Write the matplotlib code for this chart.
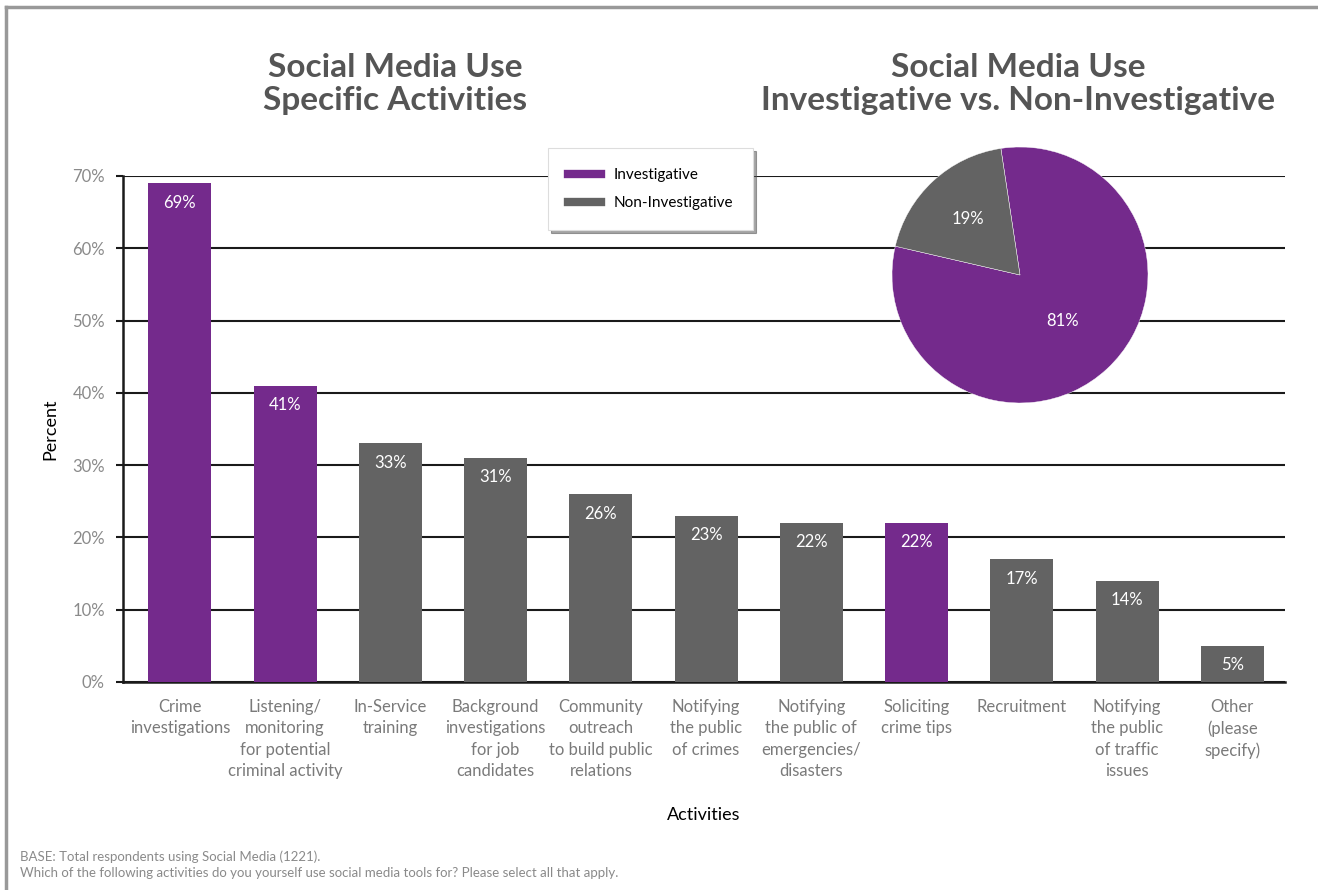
import matplotlib
matplotlib.use("Agg")
import matplotlib.pyplot as plt
from matplotlib.lines import Line2D
import numpy as np

# bar chart data
activities = ["Crime\ninvestigations", "Listening/\nmonitoring\nfor potential\ncriminal activity",
              "In-Service\ntraining", "Background\ninvestigations\nfor job\ncandidates",
              "Community\noutreach\nto build public\nrelations", "Notifying\nthe public\nof crimes",
              "Notifying\nthe public of\nemergencies/\ndisasters", "Soliciting\ncrime tips",
              "Recruitment", "Notifying\nthe public\nof traffic\nissues", "Other\n(please\nspecify)"]
percent = [69, 41, 33, 31, 26, 23, 22, 22, 17, 14, 5]
investigative = [True, True, False, False, False, False, False, True, False, False, False]

# pie chart data
pie_labels = ["Investigative", "Non-Investigative"]
pie_values = [81, 19]

purple = "#742a8c"
grey = "#636363"
plt.rcParams['font.family'] = ['Lato', 'DejaVu Sans']

fig = plt.figure(figsize=(13.18, 8.9), dpi=100)

# outer frame (top and left edge)
fig.add_artist(Line2D([6/1318, 6/1318], [0, 1 - 7/890], color="#999999", lw=2.5))
fig.add_artist(Line2D([6/1318, 1], [1 - 7/890, 1 - 7/890], color="#999999", lw=2.5))

ax = fig.add_axes([123/1318, 1 - 682/890, (1285 - 123)/1318, (682 - 176)/890])
x = np.arange(len(percent))
colors = [purple if inv else grey for inv in investigative]
ax.bar(x, percent, width=0.6, color=colors, zorder=3)
for xi, p in zip(x, percent):
    ax.text(xi, p - 2.7, f"{p}%", ha="center", va="center", color="white", fontsize=12, zorder=4)

ax.set_xlim(-0.54, 10.5)
ax.set_ylim(0, 70)
ax.set_yticks(range(0, 71, 10))
ax.set_yticklabels([f"{v}%" for v in range(0, 71, 10)], color="#8a8a8a", fontsize=12)
ax.yaxis.grid(True, color="#1a1a1a", lw=1.5, zorder=0)
ax.tick_params(axis="y", length=5, width=1.5, color="#1a1a1a", pad=8)
ax.set_xticks(x)
ax.set_xticklabels(activities, color="#7a7a7a", fontsize=12, linespacing=1.42)
ax.tick_params(axis="x", length=0, pad=12)
for s in ["top", "right"]:
    ax.spines[s].set_visible(False)
ax.spines["left"].set_linewidth(1.8)
ax.spines["bottom"].set_linewidth(1.8)
ax.spines["left"].set_color("#1a1a1a")
ax.spines["bottom"].set_color("#1a1a1a")
ax.set_ylabel("Percent", fontsize=13, labelpad=10)
ax.set_xlabel("Activities", fontsize=13, labelpad=20)

# pie of investigative vs non-investigative
pax = fig.add_axes([(1020 - 128)/1318, 1 - (275 + 128)/890, 256/1318, 256/890])
wedges, texts = pax.pie(pie_values, colors=[purple, grey], startangle=167, counterclock=True,
                        wedgeprops=dict(edgecolor="white", linewidth=0.3))
for w, v, r in zip(wedges, pie_values, [0.49, 0.6]):
    ang = np.deg2rad((w.theta1 + w.theta2) / 2)
    pax.text(r * np.cos(ang), r * np.sin(ang), f"{v}%", ha="center", va="center",
             color="white", fontsize=12)
pax.set_xlim(-1, 1)
pax.set_ylim(-1, 1)
pax.set_aspect("equal")

# titles
fig.text(395/1318, 1 - 84/890, "Social Media Use\nSpecific Activities", ha="center", va="center",
         fontsize=24, fontweight="bold", color="#555555", linespacing=1.15)
fig.text(1018/1318, 1 - 84/890, "Social Media Use\nInvestigative vs. Non-Investigative", ha="center",
         va="center", fontsize=24, fontweight="bold", color="#555555", linespacing=1.15)

handles = [Line2D([], [], color=purple, lw=6), Line2D([], [], color=grey, lw=6)]
leg = fig.legend(handles, pie_labels, loc="upper left", bbox_to_anchor=(548/1318, 1 - 148/890),
                 fontsize=11, frameon=True, fancybox=False, shadow=True, handlelength=2.2,
                 borderpad=1.3, labelspacing=0.95, borderaxespad=0, edgecolor="#dddddd")
leg.get_frame().set_linewidth(0.8)

fig.text(20/1318, 1 - 857/890, "BASE: Total respondents using Social Media (1221).", fontsize=9.5,
         color="#8a8a8a", va="center")
fig.text(20/1318, 1 - 873/890,
         "Which of the following activities do you yourself use social media tools for? Please select all that apply.",
         fontsize=9.5, color="#8a8a8a", va="center")

fig.savefig("out.png", dpi=100)
